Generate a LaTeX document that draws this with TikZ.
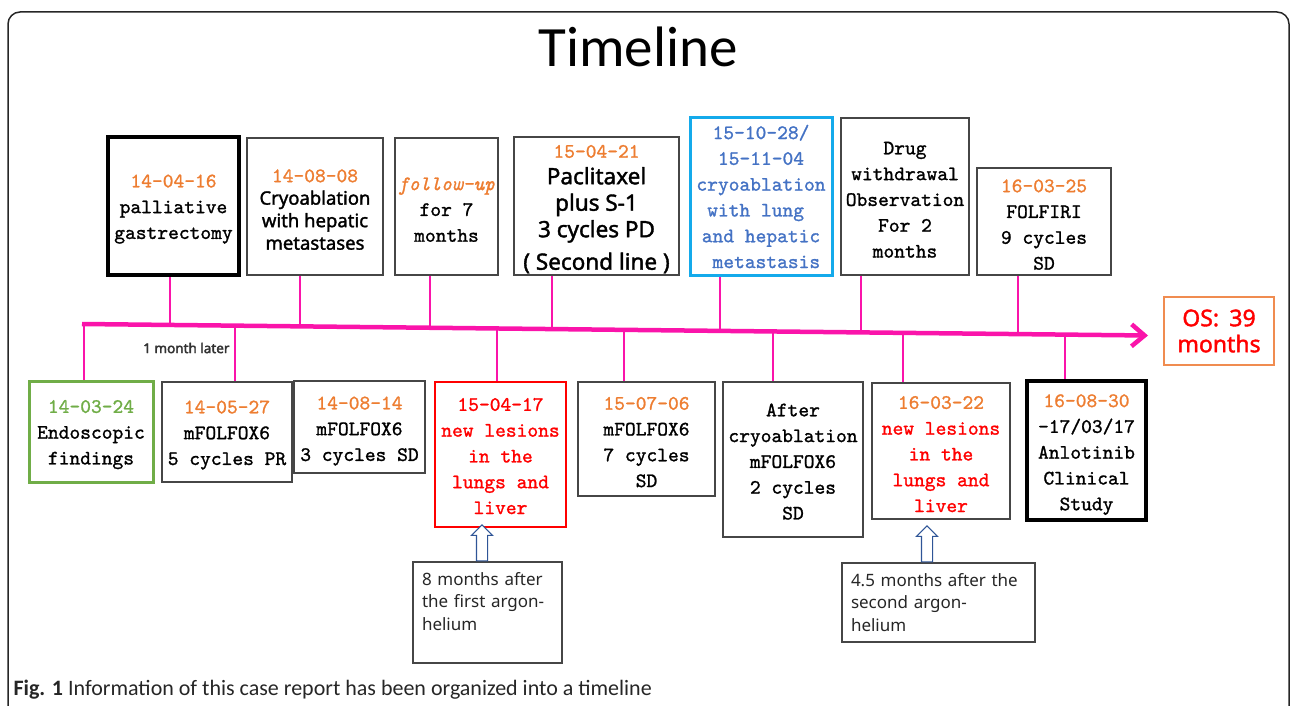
\documentclass[tikz,border=0pt]{standalone}
\usepackage{fontspec}
\setsansfont{Noto Sans}
\setmonofont{lmmono10-regular.otf}[FakeBold=1.2, ItalicFont=lmmono10-italic.otf, ItalicFeatures={FakeBold=1.2}]
\newfontfamily\capfont{Carlito}
\newfontfamily\boxsans{Noto Sans}[FakeBold=1.6]
\newfontfamily\tagsans{Noto Sans}[FakeBold=2.5]
\usetikzlibrary{arrows.meta,shapes.arrows}
\definecolor{pinkline}{RGB}{250,20,170}
\definecolor{dateorange}{RGB}{237,125,49}
\definecolor{okgreen}{RGB}{112,173,71}
\definecolor{cryoblue}{RGB}{68,114,196}
\definecolor{cryoframe}{RGB}{20,170,235}
\definecolor{boxgray}{RGB}{70,70,70}
\definecolor{callblue}{RGB}{47,85,151}
\definecolor{osframe}{RGB}{240,140,80}
\newcommand{\lift}{\rule{0pt}{19pt}}
\newcommand{\evdate}[1]{{\ttfamily\fontsize{20.5}{25.8}\selectfont\color{dateorange}#1}}
\tikzset{
  evbox/.style={draw=boxgray, line width=1.4pt, inner sep=0pt, align=center, font=\ttfamily\fontsize{20.5}{25.8}\selectfont},
  boldbox/.style={evbox, draw=black, line width=3.5pt},
  greenbox/.style={evbox, draw=okgreen, line width=3pt},
  redbox/.style={evbox, draw=red, line width=2.2pt, text=red},
  cryobox/.style={evbox, draw=cryoframe, line width=3pt, text=cryoblue},
  sansbox/.style={evbox, font=\boxsans\fontsize{18.5}{22.5}\selectfont},
  tick/.style={pinkline, line width=2pt},
  callbox/.style={draw=boxgray, line width=1.2pt, align=left, inner xsep=9pt, text=black!85, font=\sffamily\fontsize{17}{22.5}\selectfont},
  holarrow/.style={single arrow, draw=callblue, fill=white, line width=1.1pt, shape border rotate=90, inner sep=5pt, minimum width=0pt, minimum height=36pt, single arrow head extend=5pt, anchor=tail}
}
\begin{document}
\begin{tikzpicture}[x=1pt,y=-1pt]
\useasboundingbox (0,0) rectangle (1292,706);
\clip (0,0) rectangle (1292,706);
\draw [line width=1.5pt, black!85, rounded corners=12pt] (8,12) rectangle (1289,760);
\node [font=\capfont\fontsize{57}{60}\selectfont] (title) at (638,47) {Timeline};

\node [boldbox, minimum width=131pt, minimum height=138pt] (b1) at (173.5,206) {\lift\evdate{14-04-16}\\palliative\\gastrectomy};
\node [sansbox, minimum width=136pt, minimum height=137pt] (b2) at (315,206.5) {\lift\evdate{14-08-08}\\Cryoablation\\with hepatic\\metastases};
\node [evbox, minimum width=103pt, minimum height=137pt] (b3) at (446.5,206.5) {\lift{\itshape\color{dateorange}follow-up}\\for 7\\months};
\node [sansbox, font=\boxsans\fontsize{22.5}{26.5}\selectfont, minimum width=165pt, minimum height=138pt] (b4) at (596.5,206) {\lift\evdate{15-04-21}\\Paclitaxel\\plus S-1\\3 cycles PD\\[6pt]( Second line )};
\node [cryobox, minimum width=142pt, minimum height=157pt] (b5) at (761,196.5) {15-10-28/\\15-11-04\\cryoablation\\with lung\hphantom{x}\\and hepatic\\\hphantom{x}metastasis};
\node [evbox, minimum width=128pt, minimum height=157pt] (b6) at (905,196.5) {\lift Drug\\withdrawal\\Observation\\For 2\\months};
\node [evbox, minimum width=134pt, minimum height=107pt] (b7) at (1044,221.5) {\lift\evdate{16-03-25}\\FOLFIRI\\9 cycles\\SD};

\node [evbox, draw=osframe, text=red, font=\boxsans\fontsize{23}{26}\selectfont, minimum width=110pt, minimum height=68pt] (os) at (1219,331) {OS:\hspace{0.45em}39\\months};

\coordinate (tl0) at (82,324);
\coordinate (tl1) at (1148,335.5);
\draw [pinkline, line width=4.5pt, ->, >={Straight Barb[length=13pt,width=22pt]}] (tl0) -- (tl1);

\coordinate (t1) at (170,324.95);
\coordinate (t2) at (300,326.35);
\coordinate (t3) at (430,327.75);
\coordinate (t4) at (552,329.07);
\coordinate (t5) at (720,330.88);
\coordinate (t6) at (861,332.4);
\coordinate (t7) at (1018,334.1);
\draw [tick] (t1) -- (t1 |- b1.south);
\draw [tick] (t2) -- (t2 |- b2.south);
\draw [tick] (t3) -- (t3 |- b3.south);
\draw [tick] (t4) -- (t4 |- b4.south);
\draw [tick] (t5) -- (t5 |- b5.south);
\draw [tick] (t6) -- (t6 |- b6.south);
\draw [tick] (t7) -- (t7 |- b7.south);

\node [greenbox, minimum width=124pt, minimum height=101pt] (c1) at (91,431.5) {\lift\textcolor{okgreen}{14-03-24}\\Endoscopic\\findings};
\node [evbox, minimum width=130pt, minimum height=100pt] (c2) at (227,432) {\lift\evdate{14-05-27}\\mFOLFOX6\\5 cycles PR};
\node [evbox, minimum width=131pt, minimum height=92pt] (c3) at (359.5,427) {\rule{0pt}{21pt}\evdate{14-08-14}\\mFOLFOX6\\3 cycles SD};
\node [redbox, minimum width=131pt, minimum height=145pt] (c4) at (500.5,454.5) {\rule{0pt}{16pt}15-04-17\\new lesions\\in the\\lungs and\\liver};
\node [evbox, minimum width=137pt, minimum height=114pt] (c5) at (646.5,439) {\lift\evdate{15-07-06}\\mFOLFOX6\\7 cycles\\SD};
\node [evbox, minimum width=140pt, minimum height=155pt] (c6) at (793,459.5) {\rule{0pt}{17pt}After\\cryoablation\\mFOLFOX6\\2 cycles\\SD};
\node [evbox, minimum width=138pt, minimum height=136pt] (c7) at (941,451) {\lift\evdate{16-03-22}\\\textcolor{red}{new lesions}\\\textcolor{red}{in the}\\\textcolor{red}{lungs and}\\\textcolor{red}{liver}};
\node [boldbox, minimum width=119pt, minimum height=139pt] (c8) at (1086.5,450.5) {\rule{0pt}{21pt}\evdate{16-08-30}\\-17/03/17\\Anlotinib\\Clinical\\Study};

\coordinate (d1) at (84,324.02);
\coordinate (d2) at (235,325.65);
\coordinate (d4) at (497,328.48);
\coordinate (d5) at (624,329.85);
\coordinate (d6) at (773,331.46);
\coordinate (d7) at (903,332.86);
\coordinate (d8) at (1065,334.6);
\draw [tick] (d1) -- (d1 |- c1.north);
\draw [tick] (d2) -- (d2 |- c2.north);
\draw [tick] (d4) -- (d4 |- c4.north);
\draw [tick] (d5) -- (d5 |- c5.north);
\draw [tick] (d6) -- (d6 |- c6.north);
\draw [tick] (d7) -- (d7 |- c7.north);
\draw [tick] (d8) -- (d8 |- c8.north);

\node [anchor=east, text=black!80, font=\tagsans\fontsize{13.5}{15}\selectfont] (later) at (233,348) {1 month later};

\node [callbox, text width=131pt, minimum height=101pt] (call1) at (487.5,612.5) {8 months after\\the first argon-\\helium\\~};
\node [callbox, text width=175pt, minimum height=79pt] (call2) at (938.5,602.5) {4.5 months after the\\second argon-\\helium};
\node [holarrow] (up1) at ([xshift=-5.5pt]call1.north) {};
\node [holarrow] (up2) at ([xshift=-11.5pt]call2.north) {};

\node [anchor=west, text=black!85, font=\capfont\fontsize{22}{26}\selectfont] (caption) at (10,690) {\textbf{Fig. 1} Information of this case report has been organized into a timeline};
\end{tikzpicture}
\end{document}
